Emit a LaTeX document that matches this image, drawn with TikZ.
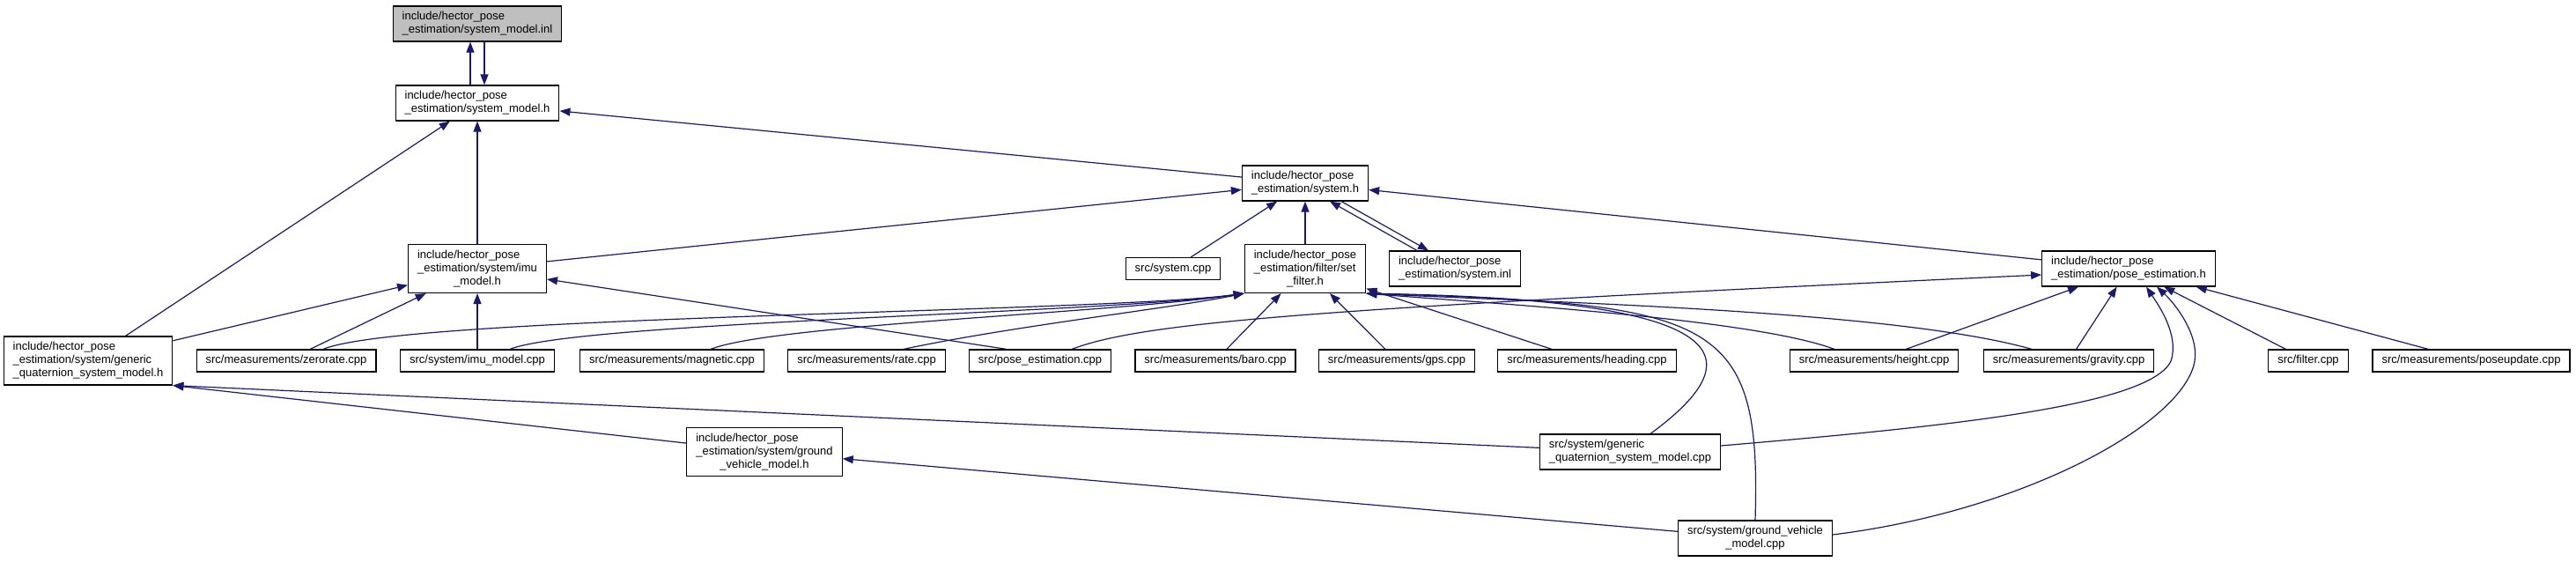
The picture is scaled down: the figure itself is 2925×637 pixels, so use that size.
\documentclass[tikz,border=0pt]{standalone}
\usepackage{fontspec}
\setmainfont{Liberation Sans}
\usepackage{tikz}
\usetikzlibrary{arrows.meta, positioning}
\definecolor{edgeblue}{RGB}{25,25,112}
\definecolor{curgray}{RGB}{191,191,191}
\newcommand{\flines}[1]{\begin{tabular}{@{}l@{}}#1\end{tabular}}
\newcommand{\lastc}[1]{\multicolumn{1}{@{}c@{}}{#1}}
\tikzset{
  file/.style={rectangle, draw=black, fill=white, line width=1.2pt, inner xsep=10.5pt, inner ysep=5pt, font=\fontsize{13}{15}\selectfont},
  curfile/.style={file, fill=curgray},
  incl/.style={draw=edgeblue, line width=1.2pt, -{Triangle[length=12pt, width=9pt]}}
}

\begin{document}
\begin{tikzpicture}[x=1pt, y=-1pt]
\path[fill=white] (0,0) rectangle (2925,637);
\useasboundingbox (0,0) rectangle (2925,637);
% Headers
\node[curfile] (inl) at (542,27) {\flines{include/hector\_pose\\\_estimation/system\_model.inl}};
\node[file] (smh) at (542,117) {\flines{include/hector\_pose\\\_estimation/system\_model.h}};
\node[file] (sysh) at (1482,208) {\flines{include/hector\_pose\\\_estimation/system.h}};
\node[file] (imuh) at (542,305) {\flines{include/hector\_pose\\\_estimation/system/imu\\\lastc{\_model.h}}};
\node[file] (syscpp) at (1332,305) {\flines{src/system.cpp}};
\node[file] (filth) at (1482,305) {\flines{include/hector\_pose\\\_estimation/filter/set\\\lastc{\_filter.h}}};
\node[file] (sysinl) at (1652,305) {\flines{include/hector\_pose\\\_estimation/system.inl}};
\node[file] (peh) at (2417,305) {\flines{include/hector\_pose\\\_estimation/pose\_estimation.h}};
\node[file] (gqh) at (100,409.5) {\flines{include/hector\_pose\\\_estimation/system/generic\\\_quaternion\_system\_model.h}};
% Sources
\node[file] (zerorate) at (325,409.5) {\flines{src/measurements/zerorate.cpp}};
\node[file] (imucpp) at (542,409.5) {\flines{src/system/imu\_model.cpp}};
\node[file] (magnetic) at (763,409.5) {\flines{src/measurements/magnetic.cpp}};
\node[file] (rate) at (984,409.5) {\flines{src/measurements/rate.cpp}};
\node[file] (posecpp) at (1181,409.5) {\flines{src/pose\_estimation.cpp}};
\node[file] (baro) at (1380,409.5) {\flines{src/measurements/baro.cpp}};
\node[file] (gps) at (1586,409.5) {\flines{src/measurements/gps.cpp}};
\node[file] (heading) at (1802,409.5) {\flines{src/measurements/heading.cpp}};
\node[file] (height) at (2128,409.5) {\flines{src/measurements/height.cpp}};
\node[file] (gravity) at (2349,409.5) {\flines{src/measurements/gravity.cpp}};
\node[file] (filtercpp) at (2621,409.5) {\flines{src/filter.cpp}};
\node[file] (poseupd) at (2806,409.5) {\flines{src/measurements/poseupdate.cpp}};
\node[file] (gvh) at (868,513) {\flines{include/hector\_pose\\\_estimation/system/ground\\\lastc{\_vehicle\_model.h}}};
\node[file] (gqcpp) at (1851,513) {\flines{src/system/generic\\\_quaternion\_system\_model.cpp}};
\node[file] (gvcpp) at (1993,611) {\flines{src/system/ground\_vehicle\\\lastc{\_model.cpp}}};

% Include edges
\draw[incl] ([xshift=-8pt]smh.north) -- ([xshift=-8pt]inl.south);
\draw[incl] ([xshift=8pt]inl.south) -- ([xshift=8pt]smh.north);
\draw[incl] (sysh) -- (smh);
\draw[incl] (imuh) -- (smh);
\draw[incl] (gqh) -- (smh);
\draw[incl] (imuh) -- (sysh);
\draw[incl] (syscpp) -- (sysh);
\draw[incl] (filth) -- (sysh);
\draw[incl] ([xshift=-43pt]sysinl.north) -- ([xshift=28pt]sysh.south);
\draw[incl] ([xshift=41pt]sysh.south) -- ([xshift=-30pt]sysinl.north);
\draw[incl] (peh) -- (sysh);
\draw[incl] (gqh) -- (imuh);
\draw[incl] (zerorate) -- (imuh);
\draw[incl] (imucpp) -- (imuh);
\draw[incl] ([xshift=-38pt]posecpp.north) -- (imuh);
\draw[incl] ([xshift=42pt]zerorate.north) .. controls (460,358) and (1250,355) .. (filth.south west);
\draw[incl] ([xshift=37pt]imucpp.north) .. controls (660,365) and (1250,356) .. (filth.south west);
\draw[incl] ([xshift=44pt]magnetic.north) .. controls (880,368) and (1260,356) .. (filth.south west);
\draw[incl] ([xshift=42pt]rate.north) .. controls (1150,370) and (1330,350) .. (filth.south west);
\draw[incl] (baro) -- (filth);
\draw[incl] (gps) -- (filth);
\draw[incl] (heading) -- (filth);
\draw[incl] ([xshift=-45pt]height.north) .. controls (1990,362) and (1700,345) .. (filth.south east);
\draw[incl] ([xshift=-42pt]gravity.north) .. controls (2150,352) and (1750,343) .. (filth.south east);
\draw[incl] ([xshift=23pt]gqcpp.north) .. controls (2000,400) and (1960,340) .. (filth.south east);
\draw[incl] (gvcpp.north) .. controls (2000,360) and (1950,345) .. (filth.south east);
\draw[incl] ([xshift=36pt]posecpp.north) .. controls (1300,365) and (1500,350) .. ([yshift=-7pt]peh.west);
\draw[incl] (height) -- (peh);
\draw[incl] (gravity) -- (peh);
\draw[incl] (filtercpp) -- (peh);
\draw[incl] (poseupd) -- (peh);
\draw[incl] ([yshift=7pt]gqcpp.east) .. controls (2200,485) and (2440,462) .. (2465,410) .. controls (2475,380) and (2450,345) .. ([xshift=20pt]peh.south);
\draw[incl] ([yshift=4pt]gvcpp.east) .. controls (2300,580) and (2480,480) .. (2492,410) .. controls (2497,380) and (2470,345) .. ([xshift=32pt]peh.south);
\draw[incl] (gvh) -- (gqh.south east);
\draw[incl] (gqcpp) -- (gqh.south east);
\draw[incl] (gvcpp) -- (gvh);
\end{tikzpicture}
\end{document}
